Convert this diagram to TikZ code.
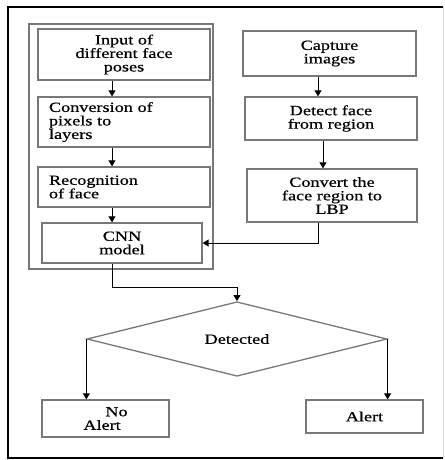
\documentclass[tikz,border=0pt]{standalone}
\usepackage{fontspec}
\setmainfont[FakeStretch=1.3,FakeBold=0.6]{Liberation Serif}
\usepackage{tikz}
\usetikzlibrary{arrows.meta,shapes.geometric}
\definecolor{boxgray}{RGB}{120,120,120}

\begin{document}
\begin{tikzpicture}[x=1pt,y=-1pt,
        box/.style={draw=boxgray, line width=1.3pt, rectangle, inner sep=2pt,
            font=\fontsize{14}{13.5}\selectfont, align=center},
        leftbox/.style={box, text width=150pt, align=left},
        arr/.style={black, line width=0.9pt, -{Triangle[length=6pt,width=7pt]}}]
    \useasboundingbox (0,0) rectangle (444,460);
    % outer frame
    \draw[black, line width=1.2pt] (443,7) -- (8,7) -- (8,458) -- (443,458);
    \draw[gray!30, line width=1pt] (443,7) -- (443,458);
    % left column
    \draw[boxgray, line width=1.3pt] (29,24) rectangle (213,269);
    \node[box, minimum width=172pt, minimum height=51pt] (poses) at (124,54.5) {Input of\\different face\\poses};
    \node[leftbox, minimum width=172pt, minimum height=50pt] (layers) at (124,122) {Conversion of\\pixels to\\layers};
    \node[leftbox, minimum width=172pt, minimum height=40pt] (recog) at (124,187) {Recognition\\of face};
    \node[box, minimum width=160pt, minimum height=40pt] (cnn) at (122,243) {CNN\\model};
    % right column
    \node[box, minimum width=173pt, minimum height=45pt] (capture) at (329.5,53.5) {Capture\\images};
    \node[box, minimum width=172pt, minimum height=43pt] (detect) at (331,118.5) {Detect face\\from region};
    \node[box, minimum width=170pt, minimum height=53pt] (lbp) at (332,195.5) {Convert the\\face region to\\LBP};
    % decision
    \node[diamond, draw=boxgray, line width=1.3pt, inner sep=0pt, minimum width=300pt,
        minimum height=65pt, font=\fontsize{14}{13.5}\selectfont] (detected) at (237,339) {Detected};
    \node[box, minimum width=127pt, minimum height=37pt, align=left] (noalert) at (105.5,418.5) {\hspace*{22pt}No\\Alert};
    \node[box, minimum width=117pt, minimum height=33pt] (alert) at (364.5,416.5) {Alert};

    \coordinate (lx) at (112,0);
    \coordinate (rx) at (318,0);
    \coordinate (rx2) at (323,0);
    \coordinate (bend) at (237,287);
    \draw[arr] (poses.south -| lx) -- (layers.north -| lx);
    \draw[arr] (layers.south -| lx) -- (recog.north -| lx);
    \draw[arr] (recog.south -| lx) -- (cnn.north -| lx);
    \draw[arr] (capture.south -| rx) -- (detect.north -| rx);
    \draw[arr] (detect.south -| rx2) -- (lbp.north -| rx2);
    \draw[arr] (lbp.south -| rx) |- (cnn.east);
    \draw[arr] (cnn.south -| lx) |- (bend) -- (detected.north);
    \draw[arr] (detected.west) -- (detected.west |- noalert.north);
    \draw[arr] (detected.east) -- (detected.east |- alert.north);
\end{tikzpicture}
\end{document}
